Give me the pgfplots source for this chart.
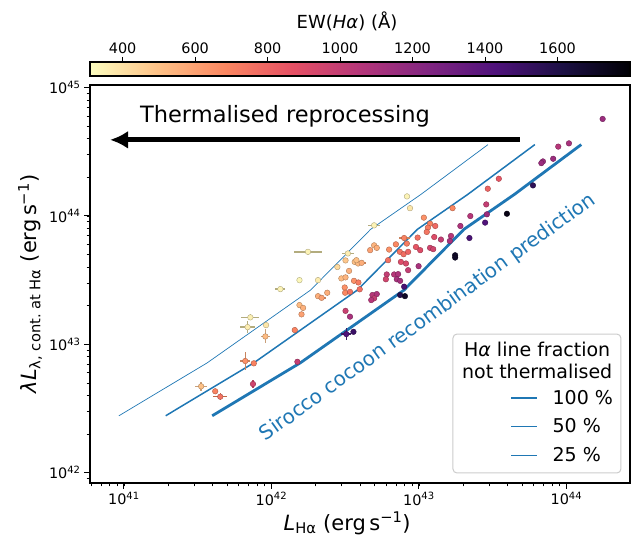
\documentclass[border=0pt]{standalone}
\usepackage{fontspec}
\setmainfont{DejaVu Sans}
\usepackage{pgfplots}
\usepackage{pgfplotstable}
\pgfplotsset{compat=1.18}
\usetikzlibrary{arrows.meta}

\definecolor{tabblue}{HTML}{1F77B4}
\definecolor{ebY}{HTML}{B3AC7E}
\definecolor{ebT}{HTML}{C9A07A}
\definecolor{ebO}{HTML}{C8835E}
\definecolor{ebR}{HTML}{C06848}
\definecolor{ebC}{HTML}{B84560}
\definecolor{ebP}{HTML}{3B1C66}

\pgfplotsset{
  colormap={magmar}{rgb255=(252,253,191) rgb255=(254,194,135) rgb255=(251,135,97)
    rgb255=(229,80,100) rgb255=(181,54,122) rgb255=(129,37,129) rgb255=(79,18,123)
    rgb255=(28,16,68) rgb255=(0,0,4)},
}

% L_Halpha, lambda L_cont, EW(Halpha)
\pgfplotstableread{
x y ew
7.2e41 1.62e43 350
6.9e41 1.36e43 360
9.2e41 1.41e43 380
9.1e41 1.15e43 520
6.65e41 7.4e42 650
7.6e41 7.1e42 700
3.34e41 4.7e42 500
4.16e41 4.3e42 700
4.5e41 3.9e42 750
7.5e41 4.9e42 950
1.77e42 5.25e43 340
3.3e42 5.1e43 360
3.18e42 4.5e43 480
3.67e42 4.38e43 500
3.87e42 4.26e43 520
3.77e42 4.52e43 500
4.09e42 4.31e43 560
2.8e42 4.0e43 420
3.36e42 3.73e43 550
1.55e42 3.16e43 330
2.07e42 3.16e43 360
1.15e42 2.69e43 340
2.98e42 3.26e43 520
3.18e42 3.32e43 540
3.63e42 3.12e43 650
3.89e42 3.03e43 720
3.14e42 2.77e43 650
3.16e42 2.52e43 680
3.41e42 2.56e43 750
3.97e42 2.68e43 760
2.07e42 2.37e43 560
2.19e42 2.30e43 600
2.39e42 2.52e43 560
1.55e42 2.02e43 520
1.64e42 1.92e43 550
1.60e42 1.71e43 600
1.44e42 1.29e43 700
3.18e42 1.82e43 980
3.41e42 1.64e43 1100
3.22e42 1.20e43 1420
3.6e42 1.25e43 1500
1.50e42 7.3e42 1000
8.3e42 1.42e44 340
8.7e42 1.15e44 380
4.97e42 8.45e43 340
4.97e42 5.9e43 540
5.18e42 5.64e43 560
4.67e42 5.41e43 600
6.28e42 5.47e43 650
6.98e42 6.01e43 680
7.94e42 6.73e43 700
8.28e42 6.09e43 720
9.8e42 6.78e43 760
7.43e42 5.25e43 750
7.87e42 5.03e43 770
8.45e42 5.25e43 800
9.55e42 5.73e43 850
1.02e43 5.41e43 900
6.18e42 4.52e43 760
7.55e42 4.38e43 900
8.17e42 4.26e43 920
8.45e42 3.78e43 1000
9.95e42 4.06e43 1100
6.05e42 3.50e43 1000
5.97e42 3.21e43 950
6.79e42 3.50e43 1050
7.23e42 3.52e43 1080
7.08e42 3.21e43 1100
7.46e42 3.12e43 1120
7.94e42 2.81e43 1450
7.46e42 2.42e43 1580
8.04e42 2.37e43 1700
4.84e42 2.42e43 1050
5.18e42 2.46e43 1080
4.97e42 2.28e43 1000
4.75e42 2.21e43 1050
3.48e43 1.95e44 850
2.93e43 1.63e44 800
1.69e43 1.15e44 680
2.86e43 1.23e44 1000
2.23e43 9.98e43 1050
2.89e43 1.03e44 1150
2.81e43 8.87e43 1420
3.95e43 1.04e44 1750
1.08e43 9.7e43 650
1.19e43 8.71e43 700
1.15e43 8.1e43 720
1.13e43 7.5e43 740
1.29e43 8.35e43 780
1.27e43 6.85e43 900
1.41e43 6.55e43 1000
1.65e43 6.98e43 1050
1.62e43 6.38e43 1100
1.91e43 8.35e43 1080
2.20e43 6.73e43 1450
1.19e43 5.64e43 950
1.25e43 5.51e43 950
1.76e43 4.94e43 1700
1.76e43 4.74e43 1700
1.76e44 5.7e44 1150
1.04e44 3.68e44 1100
8.8e43 3.47e44 1050
8.13e43 2.79e44 1150
6.93e43 2.66e44 1150
6.76e43 2.58e44 1150
5.93e43 1.73e44 1550
}\pts

\begin{document}
\begin{tikzpicture}
\begin{axis}[
    name=ax,
    xmode=log, ymode=log,
    scale only axis,
    width=540pt, height=398pt,
    xmin=5.9e40, xmax=2.7e44,
    ymin=8.3e41, ymax=1.05e45,
    axis line style={line width=2.6pt},
    tick align=outside,
    xtick pos=left, ytick pos=left,
    major tick length=6pt, minor tick length=3.5pt,
    every major tick/.style={black, line width=1pt},
    every minor tick/.style={black, line width=0.7pt},
    log number format basis/.code 2 args={#1\textsuperscript{\pgfmathprintnumber[assume math mode=true]{#2}}},
    ticklabel style={font=\fontsize{14.4}{17}\selectfont},
    xlabel={\textit{L}\textsubscript{Hα} (erg\,s\textsuperscript{−1})},
    ylabel={\textit{λL}\textsubscript{λ, cont.\ at Hα} (erg\,s\textsuperscript{−1})},
    label style={font=\fontsize{21}{25}\selectfont},
    xlabel style={at={(ticklabel cs:0.476)}},
    colormap name=magmar,
    point meta min=310, point meta max=1800,
    colorbar horizontal,
    colorbar style={
        at={(0,1.0226)}, anchor=south west,
        scale only axis, width=540pt, height=14pt,
        axis line style={line width=2.6pt},
        xtick={400,600,...,1600},
        xtick pos=right, xticklabel pos=right,
        tick align=outside,
        major tick length=5pt,
        every major tick/.style={black, line width=1pt},
        ytick=\empty,
        scaled x ticks=false,
        /pgf/number format/assume math mode=true,
        /pgf/number format/1000 sep={},
        ticklabel style={font=\fontsize{14.4}{17}\selectfont},
        xlabel={EW(\textit{Hα}) (Å)},
        xlabel style={font=\fontsize{18}{21}\selectfont,
            at={(axis description cs:0.476,1)}, anchor=center, yshift=41pt},
    },
    legend style={at={(0.777,0.236)}, anchor=north west, draw=none, fill=none,
        font=\fontsize{19}{22}\selectfont, row sep=11pt, inner sep=0pt,
        nodes={inner sep=1pt},
        /tikz/every odd column/.append style={column sep=13pt}},
    legend cell align=left,
    legend image code/.code={\draw[#1] (0pt,0pt) -- (26pt,0pt);},
]
% model predictions: fraction of Halpha not thermalised
\addplot[tabblue, line width=2.8pt] coordinates {
(3.97e41,2.77e42) (1.57e42,7.16e42) (7.91e42,2.64e43) (2.02e43,7.87e43) (4.43e43,1.47e44) (1.26e44,3.6e44)};
\addlegendentry{100 \%}
\addplot[tabblue, line width=1.5pt] coordinates {
(1.92e41,2.77e42) (7.6e41,7.16e42) (3.82e42,2.64e43) (9.77e42,7.87e43) (2.14e43,1.47e44) (6.11e43,3.6e44)};
\addlegendentry{50 \%}
\addplot[tabblue, line width=0.7pt] coordinates {
(9.25e40,2.77e42) (3.67e41,7.16e42) (1.84e42,2.64e43) (4.71e42,7.87e43) (1.03e43,1.47e44) (2.94e43,3.6e44)};
\addlegendentry{25 \%}

% error bars
\addplot[ebY, only marks, mark=none, forget plot,
  error bars/.cd, x dir=both, x explicit, y dir=both, y explicit,
  error mark=none, error bar style={line width=1.4pt}] coordinates {
(7.2e41,1.62e43) += (1.09e41,0.089e43) -= (0.944e41,0.084e43)
(6.9e41,1.36e43) += (0.86e41,0.16e43) -= (0.77e41,0.14e43)
(1.77e42,5.25e43) += (0.43e42,0) -= (0.34e42,0)
(3.3e42,5.1e43) += (0.31e42,0) -= (0.29e42,0)
(1.15e42,2.69e43) += (0.09e42,0) -= (0.086e42,0)
(4.97e42,8.45e43) += (0.47e42,0) -= (0.43e42,0)
};
\addplot[ebT, only marks, mark=none, forget plot,
  error bars/.cd, x dir=both, x explicit, y dir=both, y explicit,
  error mark=none, error bar style={line width=1.4pt}] coordinates {
(9.1e41,1.15e43) += (0.69e41,0.153e43) -= (0.64e41,0.135e43)
(3.34e41,4.7e42) += (0.34e41,0.41e42) -= (0.31e41,0.38e42)
};
\addplot[ebO, only marks, mark=none, forget plot,
  error bars/.cd, x dir=both, x explicit, y dir=both, y explicit,
  error mark=none, error bar style={line width=1.4pt}] coordinates {
(6.65e41,7.4e42) += (0.54e41,1.24e42) -= (0.50e41,1.06e42)
(7.94e42,6.73e43) += (0.71e42,0) -= (0.66e42,0)
(2.19e42,2.30e43) += (0.14e42,0) -= (0.13e42,0)
(4.09e42,4.31e43) += (0.27e42,0) -= (0.25e42,0)
};
\addplot[ebR, only marks, mark=none, forget plot,
  error bars/.cd, x dir=both, x explicit, y dir=both, y explicit,
  error mark=none, error bar style={line width=1.4pt}] coordinates {
(4.5e41,3.9e42) += (0.50e41,0.24e42) -= (0.45e41,0.22e42)
};
\addplot[ebC, only marks, mark=none, forget plot,
  error bars/.cd, x dir=both, x explicit, y dir=both, y explicit,
  error mark=none, error bar style={line width=1.4pt}] coordinates {
(7.5e41,4.9e42) += (0.02e41,0.38e42) -= (0.02e41,0.35e42)
};
\addplot[ebP, only marks, mark=none, forget plot,
  error bars/.cd, x dir=both, x explicit, y dir=both, y explicit,
  error mark=none, error bar style={line width=1.4pt}] coordinates {
(3.22e42,1.20e43) += (0.26e42,0.13e43) -= (0.24e42,0.12e43)
};

% observed objects coloured by EW
\addplot[scatter, only marks, mark=*, forget plot,
  mark size=2.8pt, point meta=\thisrow{ew},
  scatter/use mapped color={draw=mapped color!70!black, fill=mapped color},
  mark options={line width=0.4pt}] table[x=x, y=y] {\pts};

% annotations
\draw[line width=5pt, -{Latex[length=18pt, width=18pt]}]
  (axis description cs:0.796,0.862) -- (axis description cs:0.037,0.862);
\node[font=\fontsize{22.5}{27}\selectfont] at (axis description cs:0.361,0.92) {Thermalised reprocessing};
\node[tabblue, rotate=35.75, font=\fontsize{20}{24}\selectfont] at (axis description cs:0.626,0.415)
  {Sirocco cocoon recombination prediction};
\draw[rounded corners=4pt, draw=black!20, fill=white, fill opacity=0.8, line width=1pt]
  (axis description cs:0.672,0.025) rectangle (axis description cs:0.983,0.374);
\node[align=center, font=\fontsize{19}{21.5}\selectfont] at (axis description cs:0.828,0.3075)
  {H\textit{α} line fraction\\not thermalised};
\end{axis}
\path ([xshift=-90pt,yshift=-57pt]ax.south west) rectangle ([xshift=2pt,yshift=85pt]ax.north east);
\end{tikzpicture}
\end{document}
